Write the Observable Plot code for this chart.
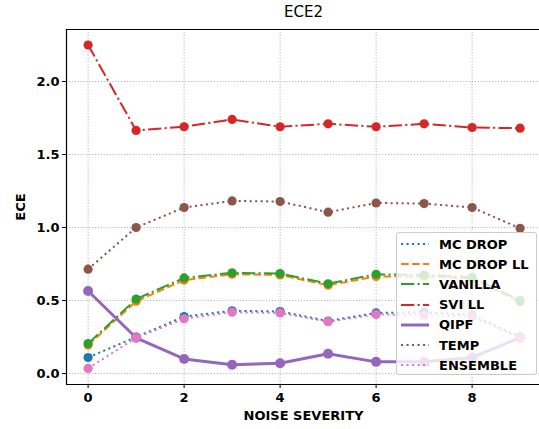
<!DOCTYPE html>
<html><head><meta charset="utf-8">
<script src="https://cdn.jsdelivr.net/npm/d3@7"></script>
<script src="https://cdn.jsdelivr.net/npm/@observablehq/plot@0.6"></script>
<style>
body{margin:0;background:#fff;font-family:"DejaVu Sans",sans-serif;}
#wrap{position:relative;width:539px;height:429px;overflow:hidden;}
#title{position:absolute;left:66px;width:475px;top:3px;text-align:center;font-size:15px;color:#000;}
#xlabel{position:absolute;left:66px;width:475px;top:408px;text-align:center;font-size:13px;font-weight:bold;color:#000;}
#ylabel{position:absolute;left:20px;top:207px;transform:translate(-50%,-50%) rotate(-90deg);font-size:13px;font-weight:bold;color:#000;white-space:nowrap;}
#legend{position:absolute;left:396px;top:232px;width:141px;height:143px;background:rgba(255,255,255,0.8);border:1px solid #cccccc;border-radius:3px;box-sizing:border-box;}
.item{position:absolute;left:4px;height:20px;display:flex;align-items:center;font-weight:bold;font-size:13px;color:#000;white-space:nowrap;}
.item svg{margin-right:10px;}
</style>
</head><body>
<div id="wrap"><div id="title">ECE2</div><div id="xlabel">NOISE SEVERITY</div><div id="ylabel">ECE</div></div>
<script>
const noise = [0,1,2,3,4,5,6,7,8,9];
const mcDrop     = [0.11, 0.25, 0.39, 0.43, 0.425, 0.36, 0.415, 0.42, 0.40, 0.25];
const mcDropLL   = [0.195, 0.495, 0.64, 0.68, 0.675, 0.605, 0.665, 0.665, 0.65, 0.49];
const vanilla    = [0.205, 0.51, 0.655, 0.69, 0.685, 0.615, 0.68, 0.675, 0.66, 0.50];
const sviLL      = [2.25, 1.665, 1.69, 1.74, 1.69, 1.71, 1.69, 1.71, 1.685, 1.68];
const qipf       = [0.565, 0.245, 0.10, 0.06, 0.07, 0.135, 0.08, 0.08, 0.11, 0.245];
const temp       = [0.715, 1.0, 1.137, 1.182, 1.178, 1.105, 1.168, 1.164, 1.137, 0.995];
const ensemble   = [0.035, 0.245, 0.375, 0.42, 0.415, 0.355, 0.405, 0.40, 0.39, 0.24];

const seriesNames = ["MC DROP","MC DROP LL","VANILLA","SVI LL","QIPF","TEMP","ENSEMBLE"];
const seriesValues = [mcDrop, mcDropLL, vanilla, sviLL, qipf, temp, ensemble];
const seriesColors = ["#1f77b4","#ff7f0e","#2ca02c","#d62728","#9467bd","#8c564b","#e377c2"];
const seriesDash = ["2.1,3.4","7.7,3.3","13.3,3.3,2.1,3.3","13.3,3.3,2.1,3.3",null,"2.1,3.4","2.1,3.4"];
const seriesWidth = [2,2,2,2,3,2,2];
const seriesR = [4.6,4.6,4.6,4.6,5,4.6,4.6];

const xTicks = [0,2,4,6,8];
const yTicks = [0,0.5,1.0,1.5,2.0];

const marks = [
  Plot.gridX(xTicks, {stroke:"#b0b0b0", strokeOpacity:1, strokeWidth:1, strokeDasharray:"1.1,1.8"}),
  Plot.gridY(yTicks, {stroke:"#b0b0b0", strokeOpacity:1, strokeWidth:1, strokeDasharray:"1.1,1.8"}),
];
seriesNames.forEach((name, i) => {
  const rows = noise.map((x, j) => ({x, y: seriesValues[i][j], s: name}));
  marks.push(Plot.line(rows, {x:"x", y:"y", stroke: seriesColors[i], strokeWidth: seriesWidth[i], strokeDasharray: seriesDash[i] ?? undefined, strokeLinecap:"butt"}));
  marks.push(Plot.dot(rows, {x:"x", y:"y", fill: seriesColors[i], r: seriesR[i], stroke: null}));
});
const xDom = [-0.45, 9.404];
const yDom = [-0.075, 2.356];
marks.push(
  Plot.ruleX([xDom[0]], {stroke:"#000", strokeWidth:1.2}),
  Plot.ruleY([yDom[0], yDom[1]], {stroke:"#000", strokeWidth:1.2}),
  Plot.axisX(xTicks, {tickSize:4, tickPadding:4, label:null, tickFormat: d=>String(d)}),
  Plot.axisY(yTicks, {tickSize:4, tickPadding:3, label:null, tickFormat: d3.format(".1f")})
);

const chart = Plot.plot({
  width: 539, height: 429,
  marginLeft: 66, marginRight: 0, marginTop: 29, marginBottom: 45,
  x: {domain: xDom},
  y: {domain: yDom},
  style: {fontFamily:"DejaVu Sans, sans-serif", fontSize:"13px", fontWeight:"bold", color:"#000", background:"transparent"},
  marks
});
const wrap = document.getElementById("wrap");
wrap.insertBefore(chart, wrap.firstChild);

const legend = document.createElement("div");
legend.id = "legend";
seriesNames.forEach((name, i) => {
  const it = document.createElement("div");
  it.className = "item";
  it.style.top = (1 + i*20.2) + "px";
  const dash = seriesDash[i] ? `stroke-dasharray="${seriesDash[i]}"` : "";
  it.innerHTML = `<svg width="28" height="10"><line x1="0" y1="5" x2="28" y2="5" stroke="${seriesColors[i]}" stroke-width="${seriesWidth[i]}" ${dash}/></svg><span>${name}</span>`;
  legend.appendChild(it);
});
wrap.appendChild(legend);
</script>
</body></html>
